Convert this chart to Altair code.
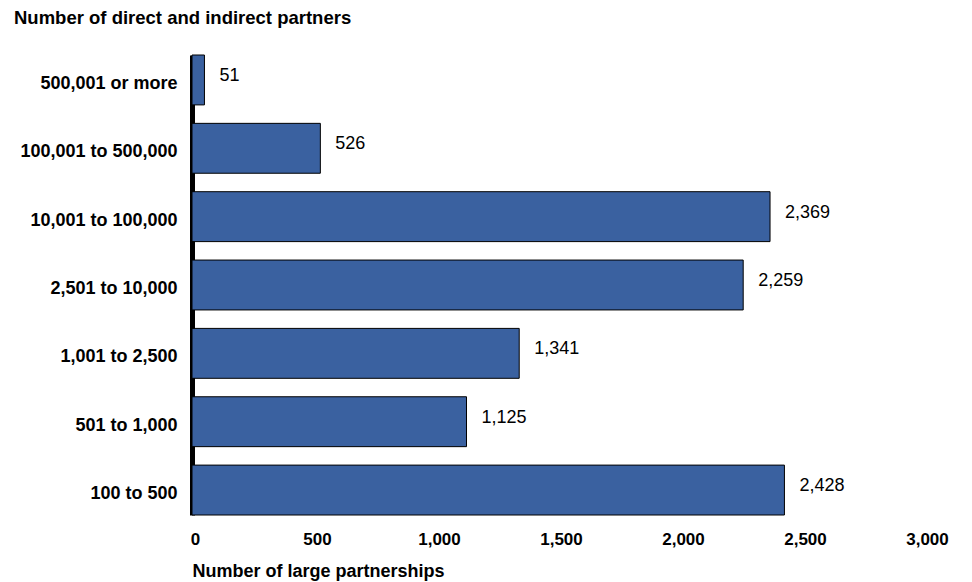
import altair as alt
import pandas as pd

categories = ["500,001 or more", "100,001 to 500,000", "10,001 to 100,000",
              "2,501 to 10,000", "1,001 to 2,500", "501 to 1,000", "100 to 500"]
values = [51, 526, 2369, 2259, 1341, 1125, 2428]
labels = ["51", "526", "2,369", "2,259", "1,341", "1,125", "2,428"]
x_ticks = [0, 500, 1000, 1500, 2000, 2500, 3000]

df = pd.DataFrame({"cat": categories, "val": values, "lab": labels})

y_enc = alt.Y("cat:N", sort=categories,
              scale=alt.Scale(paddingInner=0.27, paddingOuter=0.0),
              axis=alt.Axis(title=None, ticks=False, grid=False, domain=True,
                            domainColor="black", domainWidth=5,
                            labelFont="Liberation Sans", labelFontWeight="bold",
                            labelFontSize=18, labelColor="black", labelPadding=15,
                            labelOffset=4))

x_enc = alt.X("val:Q", scale=alt.Scale(domain=[0, 3000], nice=False),
              axis=alt.Axis(values=x_ticks, format=",d", grid=False, domain=False, ticks=False,
                            labelFont="Liberation Sans", labelFontWeight="bold",
                            labelFontSize=17, labelColor="black", labelPadding=16,
                            labelAlign="center", labelOffset=3, labelOverlap=False,
                            labelFlush=False,
                            title="Number of large partnerships", titleAnchor="start",
                            titleAlign="left", titleFont="Liberation Sans",
                            titleFontWeight="bold", titleFontSize=18, titleColor="black",
                            titlePadding=15))

bars = alt.Chart(df).mark_bar(color="#3A61A0", stroke="black", strokeWidth=1).encode(
    x=x_enc, y=y_enc)

text = alt.Chart(df).mark_text(align="left", dx=15, dy=-4, font="Liberation Sans",
                               fontSize=18, color="black").encode(
    x=alt.X("val:Q"), y=alt.Y("cat:N", sort=categories), text="lab:N")

chart = alt.layer(bars, text).properties(
    width=732, height=460,
    background="white",
    title=alt.TitleParams("Number of direct and indirect partners", anchor="start",
                          frame="group", dx=-178,
                          font="Liberation Sans", fontSize=18.5, fontWeight="bold",
                          color="black", offset=27),
    autosize=alt.AutoSizeParams(type="none"),
    padding={"left": 192, "top": 55, "right": 48, "bottom": 67}
).configure_view(stroke="transparent", strokeWidth=0)

chart.save("out.html", embed_options={"renderer": "svg", "actions": False})
